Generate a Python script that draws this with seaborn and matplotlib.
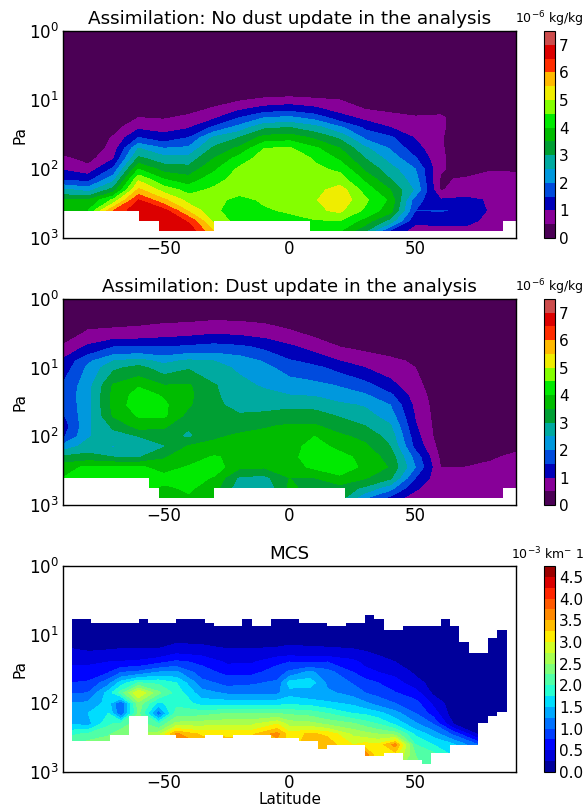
import numpy as np
import matplotlib
matplotlib.use("Agg")
import matplotlib.pyplot as plt
import seaborn as sns

pressure = [1, 3, 5, 8, 10, 18, 25, 35, 50, 70, 100, 140, 200, 280, 400, 560, 800, 1000]
lat_model = [-90, -80, -70, -60, -50, -40, -30, -20, -10, 0, 10, 20, 30, 40, 50, 60, 70, 80, 90]
t = [.05, .05, .05]  # upper-atmosphere background (1, 3, 5 Pa)

no_update = [
    t + [.05, .1, .1, .1, .1, .2, .6, .95, 1.4, 2.6, 3.5, 3.7, 3.7, 3.7, 3.7],
    t + [.05, .1, .1, .1, .1, .1, .3, .7, 1.3, 2.3, 3.5, 4.0, 4.0, 4.0, 4.0],
    t + [.05, .1, .2, .3, .55, .7, .95, 1.6, 2.3, 3.2, 4.6, 6.0, 6.2, 6.2, 6.2],
    t + [.05, .1, .5, .9, 1.5, 2.5, 3.1, 4.0, 4.9, 5.6, 6.5, 6.9, 6.9, 6.9, 6.9],
    t + [.05, .1, .45, .8, 1.2, 2.0, 2.7, 3.3, 4.0, 4.8, 5.6, 6.7, 7.0, 6.9, 6.9],
    t + [.05, .15, .6, .95, 1.5, 2.1, 2.7, 3.2, 3.7, 4.3, 4.8, 5.4, 6.4, 6.9, 6.9],
    t + [.1, .3, .9, 1.6, 2.6, 3.1, 3.5, 3.9, 4.3, 4.6, 4.6, 4.6, 4.8, 5.5, 5.5],
    t + [.2, .45, 1.5, 2.2, 3.0, 3.6, 4.2, 4.6, 4.7, 4.6, 4.4, 4.2, 4.3, 4.3, 4.3],
    t + [.3, .6, 2.0, 2.9, 3.7, 4.5, 4.75, 4.8, 4.8, 4.7, 4.55, 4.45, 4.3, 4.3, 4.3],
    t + [.3, .7, 2.1, 3.0, 3.8, 4.55, 4.8, 4.85, 4.85, 4.8, 4.7, 4.55, 4.35, 4.3, 4.3],
    t + [.25, .6, 1.8, 2.7, 3.4, 4.1, 4.45, 4.6, 4.7, 4.8, 4.95, 4.9, 4.45, 4.2, 4.2],
    t + [.2, .5, 1.2, 2.1, 2.9, 3.5, 3.9, 4.4, 4.7, 5.25, 5.35, 5.1, 4.5, 4.0, 4.0],
    t + [.1, .2, .85, 1.4, 1.9, 2.6, 3.0, 3.4, 3.9, 4.3, 4.6, 4.4, 3.8, 3.0, 3.0],
    t + [.05, .1, .7, 1.0, 1.6, 1.95, 2.3, 2.7, 3.0, 3.5, 3.9, 3.7, 2.8, 1.3, 1.3],
    t + [.05, .1, .55, .75, .95, 1.2, 1.55, 2.0, 2.2, 2.4, 1.7, 1.5, 1.1, .8, .8],
    t + [.05, .1, .6, .6, .55, .55, .55, .55, .45, .45, 1.05, 1.52, 1.2, .7, .7],
    t + [.05, .05, .1, .1, .1, .2, .3, .3, .55, .75, 1.1, 1.45, 1.2, .75, .75],
    t + [.05, .05, .1, .1, .1, .2, .3, .45, .7, .75, .95, .9, .8, .7, .7],
    t + [.05, .05, .1, .1, .1, .2, .3, .48, .55, .6, .6, .6, .6, .6, .6],
]

with_update = [
    [.05, .1, .6, 1.1, 1.2, 1.55, 1.6, 1.55, 1.45, 1.2, 1.4, 2.2, 3.1, 3.8, 4.0, 3.9, 3.9, 3.9],
    [.05, .55, 1.1, 1.9, 2.1, 2.3, 2.35, 2.35, 2.35, 2.4, 2.45, 2.7, 3.2, 4.1, 4.2, 4.1, 4.0, 4.0],
    [.05, .6, 1.5, 2.5, 2.9, 3.55, 3.65, 3.65, 3.55, 3.1, 2.8, 2.45, 3.0, 4.1, 4.3, 4.2, 4.1, 4.1],
    [.05, .65, 1.5, 2.7, 3.15, 3.95, 4.2, 4.3, 4.05, 3.7, 3.0, 2.8, 2.95, 4.1, 4.35, 4.3, 4.2, 4.2],
    [.05, .75, 1.5, 2.35, 2.75, 3.5, 3.95, 4.1, 4.1, 3.6, 3.2, 2.95, 3.45, 3.75, 4.2, 3.9, 3.7, 3.7],
    [.05, .8, 1.6, 2.6, 2.95, 3.55, 3.6, 3.55, 3.3, 3.05, 2.9, 3.55, 3.75, 4.05, 4.25, 4.1, 3.9, 3.9],
    [.05, .9, 1.7, 2.5, 2.6, 3.05, 3.1, 3.1, 3.1, 3.2, 3.4, 3.7, 4.05, 4.3, 3.95, 3.7, 3.5, 3.5],
    [.05, .85, 1.6, 2.3, 2.45, 2.6, 2.65, 2.85, 3.05, 3.3, 3.6, 3.75, 3.85, 3.6, 2.9, 2.7, 2.7, 2.7],
    [.05, .75, 1.4, 1.95, 2.15, 2.45, 2.6, 2.85, 3.1, 3.45, 3.65, 3.7, 3.75, 3.55, 2.85, 2.55, 2.6, 2.6],
    [.05, .55, 1.1, 1.55, 1.75, 2.3, 2.5, 2.9, 3.2, 3.55, 3.75, 3.8, 3.85, 3.8, 3.5, 3.6, 3.6, 3.6],
    [.05, .35, .8, 1.35, 1.6, 2.15, 2.45, 2.85, 3.2, 3.55, 4.0, 4.2, 4.25, 4.1, 3.5, 3.3, 3.3, 3.3],
    [.05, .15, .5, 1.0, 1.35, 1.95, 2.25, 2.6, 2.95, 3.25, 3.6, 3.85, 4.2, 4.25, 3.9, 3.3, 3.2, 3.2],
    [.05, .05, .35, .85, 1.0, 1.7, 2.05, 2.45, 2.7, 3.0, 3.35, 3.6, 3.8, 3.9, 3.55, 2.9, 2.0, 2.0],
    [.05, .05, .2, .65, .8, 1.15, 1.6, 2.0, 2.25, 2.55, 2.8, 3.0, 3.3, 3.45, 3.1, 2.2, 1.3, 1.3],
    [.05, .05, .1, .4, .5, .65, .75, .85, .95, 1.05, 1.2, 1.35, 1.8, 2.0, 1.5, 1.1, .7, .7],
    [.05, .05, .05, .1, .1, .15, .2, .2, .2, .2, .2, .3, .4, .5, .6, .6, .6, .6],
    [.05, .05, .05, .05, .05, .1, .1, .1, .1, .1, .2, .3, .4, .5, .6, .6, .6, .6],
    [.05, .05, .05, .05, .05, .1, .1, .1, .1, .1, .2, .3, .47, .55, .6, .6, .6, .6],
    [.05, .05, .05, .05, .05, .1, .1, .1, .1, .2, .35, .45, .55, .6, .6, .6, .6, .6],
]

lat_mcs = [-90, -80, -72, -67, -60, -52, -45, -35, -25, -15, -5, 0, 8, 15, 25, 30, 35, 42, 50, 57, 65, 75, 80, 90]
u = [.02, .05, .05, .08, .1]  # above the retrieval top (1-10 Pa)
mcs = [
    u + [.33, .45, .6, .73, .95, 1.25, 1.4, 1.55, 1.9, 2.2, 2.2, 2.2, 2.2],
    u + [.26, .45, .62, .78, 1.0, 1.3, 1.5, 1.4, 2.05, 2.4, 2.4, 2.4, 2.4],
    u + [.28, .5, .72, 1.15, 1.6, 1.6, 1.75, 1.95, 2.2, 2.5, 2.5, 2.5, 2.5],
    u + [.3, .52, .98, 1.6, 2.1, .95, 1.0, 2.1, 2.4, 2.6, 2.6, 2.6, 2.6],
    u + [.3, .55, 1.05, 2.0, 3.0, 2.4, 2.3, 2.4, 2.5, 2.6, 2.6, 2.6, 2.6],
    u + [.3, .68, 1.25, 1.95, 2.3, 1.65, 1.05, 2.0, 2.65, 2.9, 2.9, 2.9, 2.9],
    u + [.45, .8, 1.3, 1.75, 1.9, 1.95, 2.1, 2.6, 3.55, 3.6, 3.6, 3.6, 3.6],
    u + [.4, .7, .85, 1.1, 1.35, 1.65, 2.15, 2.65, 3.2, 3.5, 3.5, 3.5, 3.5],
    u + [.3, .46, .68, .9, 1.2, 1.65, 2.25, 2.7, 3.2, 3.4, 3.4, 3.4, 3.4],
    u + [.3, .47, .68, .95, 1.2, 1.65, 2.25, 2.7, 3.2, 3.4, 3.4, 3.4, 3.4],
    u + [.33, .7, .85, 1.05, 1.2, 1.65, 2.25, 3.0, 3.6, 3.3, 3.3, 3.3, 3.3],
    u + [.38, .75, 1.05, 1.6, 1.4, 1.7, 2.2, 2.65, 3.1, 3.2, 3.2, 3.2, 3.2],
    u + [.35, .7, 1.3, 1.65, 1.3, 1.65, 2.15, 2.6, 3.3, 3.3, 3.3, 3.3, 3.3],
    u + [.33, .75, 1.1, 1.2, 1.3, 1.55, 2.0, 2.45, 3.2, 3.4, 3.3, 3.3, 3.3],
    u + [.3, .58, .75, .98, 1.15, 1.45, 1.75, 2.3, 2.7, 3.0, 3.2, 3.2, 3.2],
    u + [.26, .42, .6, .85, 1.0, 1.3, 1.7, 2.15, 2.6, 3.1, 3.7, 3.7, 3.7],
    u + [.22, .33, .5, .75, .92, 1.15, 1.6, 2.0, 2.5, 3.05, 3.0, 3.0, 3.0],
    u + [.15, .25, .42, .6, .76, 1.0, 1.35, 1.7, 2.4, 3.6, 3.1, 2.6, 2.6],
    u + [.12, .15, .2, .35, .6, .85, 1.0, 1.3, 1.7, 2.0, 2.25, 2.3, 2.3],
    u + [.1, .1, .12, .15, .2, .45, .65, 1.0, 1.4, 1.75, 2.1, 2.1, 2.1],
    u + [.1, .1, .1, .1, .1, .1, .1, .25, .95, 1.55, 1.7, 1.7, 1.7],
    u + [.1, .1, .1, .1, .1, .1, .1, .1, .2, 1.0, 1.0, 1.0, 1.0],
    u + [.1, .1, .1, .1, .1, .1, .1, .1, .1, .1, .1, .1, .1],
    u + [.1, .1, .1, .1, .1, .1, .1, .1, .1, .1, .1, .1, .1],
]

ground_edges_no = [-90, -60, -52, -30, 8, 85, 90]
ground_p_no = [400, 560, 800, 560, 800, 560, 560]
ground_edges_up = [-90, -56, -52, -30, 22, 85, 90]
ground_p_up = [400, 560, 800, 560, 800, 560, 560]

mcs_edges = list(np.arange(-86.25, 86.26, 3.75))
mcs_top = [5.9, 5.9] + [6.8] * 5 + [5.9] + [6.8] * 3 + [5.9] * 3 + [6.8] + [7.6] * 3 + [5.9] + [7.6] * 2 + \
          [5.9] * 3 + [6.8] * 3 + [7.6] * 2 + [6.8] * 2 + [5.2, 5.9] + [8.6] * 2 + [7.6] * 4 + [5.9, 7.6, 12.6] + \
          [18.2] * 2 + [11.1, 8.6]
mcs_bottom = [358] * 4 + [287] * 2 + [152] * 2 + [287] * 3 + [321] * 3 + [287] * 2 + [321] + [287] * 4 + \
             [321] * 3 + [358] * 2 + [463] + [410] * 4 + [592] * 2 + [530] * 2 + [677] * 2 + [766] + [530] * 2 + \
             [410] * 3 + [194, 152, 134]

titles = ["Assimilation: No dust update in the analysis", "Assimilation: Dust update in the analysis", "MCS"]
unit_labels = [r"$10^{-6}$ kg/kg", r"$10^{-6}$ kg/kg", r"$10^{-3}$ km$^{-}$ 1"]
dust_levels = np.arange(0, 7.51, 0.5)
dust_ticks = [0, 1, 2, 3, 4, 5, 6, 7]
mcs_levels = np.arange(0, 4.76, 0.25)
mcs_ticks = np.arange(0, 4.51, 0.5)

sns.set_style("ticks", {"xtick.direction": "in", "ytick.direction": "in", "xtick.top": True, "ytick.right": True,
                        "axes.edgecolor": "black", "xtick.color": "black", "ytick.color": "black",
                        "text.color": "black", "axes.labelcolor": "black"})
plt.rcParams["font.family"] = ["DejaVu Sans"]
plt.rcParams["mathtext.default"] = "regular"

W, H = 585, 808
fig = plt.figure(figsize=(W / 100, H / 100), dpi=100, facecolor="white")
tops = [31, 299, 566]
bots = [238, 505, 772]
spectral = matplotlib.colormaps["nipy_spectral"]
jet = matplotlib.colormaps["jet"]


def panel(i, lats, cols, levels, cmap, ticks, fmt):
    ax = fig.add_axes([63 / W, 1 - bots[i] / H, 453 / W, (bots[i] - tops[i]) / H])
    Z = np.array(cols).T
    cs = ax.contourf(lats, pressure, Z, levels=levels, cmap=cmap)
    ax.set_yscale("log")
    ax.set_ylim(1000, 1)
    ax.set_xlim(-90, 90)
    ax.set_xticks([-50, 0, 50])
    ax.set_xticklabels(["\u221250", "0", "50"])
    ax.tick_params(labelsize=12, pad=3, length=4, width=0.8)
    ax.tick_params(axis="x", pad=1.5)
    ax.tick_params(which="minor", length=2, width=0.6)
    ax.set_ylabel("Pa", fontsize=11, labelpad=1)
    ax.set_title(titles[i], fontsize=13.2, pad=5)
    for s in ax.spines.values():
        s.set_linewidth(1.0)
    cax = fig.add_axes([544 / W, 1 - bots[i] / H, 11 / W, (bots[i] - tops[i]) / H])
    cb = fig.colorbar(cs, cax=cax, ticks=ticks, format=fmt)
    cb.ax.tick_params(labelsize=11, length=0, pad=3)
    cb.outline.set_linewidth(0.8)
    fig.text(584 / W, 1 - (tops[i] - 12) / H, unit_labels[i], ha="right", va="center", fontsize=9)
    return ax


ax1 = panel(0, lat_model, no_update, dust_levels, spectral, dust_ticks, "%d")
ax1.fill_between(ground_edges_no, ground_p_no, 1000, step="post", color="white", lw=0, zorder=1.5)
ax2 = panel(1, lat_model, with_update, dust_levels, spectral, dust_ticks, "%d")
ax2.fill_between(ground_edges_up, ground_p_up, 1000, step="post", color="white", lw=0, zorder=1.5)
ax3 = panel(2, lat_mcs, mcs, mcs_levels, jet, mcs_ticks, "%.1f")
edges = mcs_edges
ax3.fill_between(edges, mcs_top + [mcs_top[-1]], 1, step="post", color="white", lw=0, zorder=1.5)
ax3.fill_between(edges, mcs_bottom + [mcs_bottom[-1]], 1000, step="post", color="white", lw=0, zorder=1.5)
ax3.axvspan(-90, edges[0], color="white", lw=0, zorder=1.5)
ax3.axvspan(edges[-1], 90, color="white", lw=0, zorder=1.5)
ax3.set_xlabel("Latitude", fontsize=11, labelpad=0)

fig.savefig("out.png", dpi=100, facecolor="white")
